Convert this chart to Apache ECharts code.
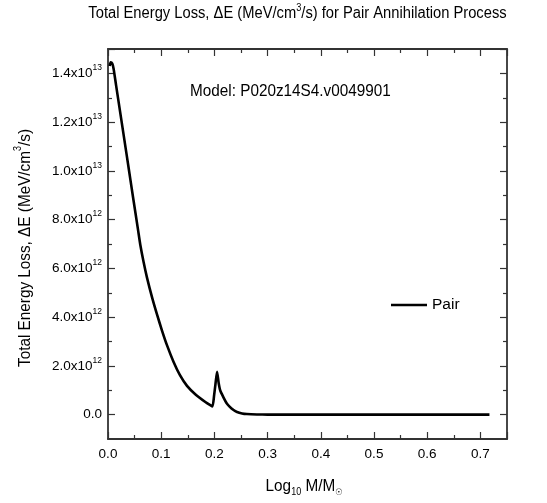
<!DOCTYPE html>
<html>
<head>
<meta charset="utf-8">
<script src="https://cdn.jsdelivr.net/npm/echarts@6/dist/echarts.min.js"></script>
<style>html,body{margin:0;padding:0;background:#fff}#c{width:547px;height:503px}</style>
</head>
<body>
<div id="c"></div>
<script>
const logMass = [0.003, 0.005, 0.008, 0.0105, 0.015, 0.023, 0.031, 0.039, 0.047, 0.0564, 0.0607, 0.0669, 0.0733, 0.0827, 0.0921, 0.1015, 0.111, 0.1233, 0.135, 0.1485, 0.164, 0.183, 0.193, 0.1965, 0.1995, 0.202, 0.205, 0.208, 0.211, 0.217, 0.2227, 0.2285, 0.236, 0.2425, 0.252, 0.261, 0.28, 0.30, 0.35, 0.45, 0.55, 0.65, 0.717];
const pairLoss = [1.43e13, 1.445e13, 1.44e13, 1.419e13, 1.354e13, 1.239e13, 1.124e13, 1.009e13, 8.93e12, 7.59e12, 6.97e12, 6.26e12, 5.62e12, 4.82e12, 4.11e12, 3.45e12, 2.84e12, 2.16e12, 1.63e12, 1.18e12, 8.4e11, 5.2e11, 3.8e11, 3.4e11, 8.0e11, 1.25e12, 1.76e12, 1.3e12, 9.9e11, 7.1e11, 4.8e11, 3.3e11, 1.9e11, 1.1e11, 5e10, 2.5e10, 8e9, 2e9, 0, 0, 0, 0, 0];
const seriesName = 'Pair';
const titleText = 'Total Energy Loss, \u0394E (MeV/cm{s|3}/s) for Pair Annihilation Process';
const yName = 'Total Energy Loss, \u0394E (MeV/cm{s|3}/s)';
const xName = 'Log{b|10} M/M{c|\u2609}';
const modelText = 'Model: P020z14S4.v0049901';
const xTicks = [0, 0.1, 0.2, 0.3, 0.4, 0.5, 0.6, 0.7];

const FONT = 'Liberation Sans, Arial, sans-serif';
const AX = '#333';
const chart = echarts.init(document.getElementById('c'), null, {renderer: 'canvas'});

function yFmt(v) {
  if (v === 0) return '{n|0.0}';
  if (Math.abs(v % 2e12) > 1) return '';
  const e = Math.floor(Math.log10(v) + 1e-9);
  const m = v / Math.pow(10, e);
  return '{n|' + m.toFixed(1) + 'x10}{s|' + e + '}';
}
const yRich = {
  n: {fontSize: 13.5, lineHeight: 20, fontFamily: FONT, color: '#000'},
  s: {fontSize: 8.5, lineHeight: 8, verticalAlign: 'top', fontFamily: FONT, color: '#000'}
};

const gLeft = 108, gRight = 40, gTop = 49, gBottom = 64;
const yMin = -1e12, yMax = 1.5e13;
const plotH = 503 - gTop - gBottom;
const zeroPx = gTop + plotH * (yMax - 0) / (yMax - yMin);

const option = {
  animation: false,
  backgroundColor: '#fff',
  grid: [
    {left: gLeft, right: gRight, top: gTop, bottom: gBottom, show: false},
    {left: gLeft, right: gRight, top: gTop, bottom: 503 - zeroPx, show: false}
  ],
  legend: {
    show: true, left: 391, top: 297, padding: 0,
    itemWidth: 36, itemHeight: 14,
    textStyle: {fontSize: 15.5, fontFamily: FONT, color: '#000'},
    data: [{name: seriesName, icon: 'path://M0,6 L36,6 L36,8.6 L0,8.6 Z', itemStyle: {color: '#000'}}]
  },
  xAxis: [
    {
      gridIndex: 0, type: 'value', position: 'bottom', min: 0, max: 0.75, interval: 0.1,
      axisLine: {show: true, onZero: false, lineStyle: {color: AX, width: 1.8}},
      axisTick: {show: true, inside: true, length: 7, lineStyle: {color: AX, width: 1.2}},
      minorTick: {show: true, splitNumber: 2, length: 4, lineStyle: {color: AX, width: 1.2}},
      splitLine: {show: false}, minorSplitLine: {show: false},
      axisLabel: {
        show: true, margin: 8, fontSize: 13.5, fontFamily: FONT, color: '#000', showMaxLabel: false,
        formatter: v => xTicks.some(t => Math.abs(t - v) < 1e-9) ? v.toFixed(1) : ''
      }
    },
    {
      gridIndex: 0, type: 'value', position: 'top', min: 0, max: 0.75, interval: 0.1,
      axisLine: {show: true, onZero: false, lineStyle: {color: AX, width: 1.8}},
      axisTick: {show: true, inside: true, length: 7, lineStyle: {color: AX, width: 1.2}},
      minorTick: {show: true, splitNumber: 2, length: 4, lineStyle: {color: AX, width: 1.2}},
      splitLine: {show: false}, axisLabel: {show: false}
    },
    {gridIndex: 1, type: 'value', min: 0, max: 0.75, show: false}
  ],
  yAxis: [
    {
      gridIndex: 0, type: 'value', position: 'left', min: yMin, max: yMax,
      axisLine: {show: true, onZero: false, lineStyle: {color: AX, width: 1.8}},
      axisTick: {show: false}, axisLabel: {show: false}, splitLine: {show: false}
    },
    {
      gridIndex: 0, type: 'value', position: 'right', min: yMin, max: yMax,
      axisLine: {show: true, onZero: false, lineStyle: {color: AX, width: 1.8}},
      axisTick: {show: false}, axisLabel: {show: false}, splitLine: {show: false}
    },
    {
      gridIndex: 1, type: 'value', position: 'left', min: 0, max: yMax, interval: 2e12,
      axisLine: {show: false},
      axisTick: {show: true, inside: true, length: 7, lineStyle: {color: AX, width: 1.2}},
      minorTick: {show: true, splitNumber: 2, length: 4, lineStyle: {color: AX, width: 1.2}},
      splitLine: {show: false}, minorSplitLine: {show: false},
      axisLabel: {show: true, margin: 6, showMaxLabel: false, formatter: yFmt, rich: yRich}
    },
    {
      gridIndex: 1, type: 'value', position: 'right', min: 0, max: yMax, interval: 2e12,
      axisLine: {show: false},
      axisTick: {show: true, inside: true, length: 7, lineStyle: {color: AX, width: 1.2}},
      minorTick: {show: true, splitNumber: 2, length: 4, lineStyle: {color: AX, width: 1.2}},
      splitLine: {show: false}, axisLabel: {show: false}
    }
  ],
  series: [{
    name: seriesName, type: 'line', xAxisIndex: 0, yAxisIndex: 0,
    data: logMass.map((x, i) => [x, pairLoss[i]]),
    showSymbol: false, symbol: 'none', smooth: 0.2,
    lineStyle: {color: '#000', width: 2.6, join: 'round'},
    itemStyle: {color: '#000'}
  }],
  graphic: [
    {
      type: 'text', x: 297.5, y: 14, scaleX: 0.92,
      style: {
        text: titleText, align: 'center', verticalAlign: 'middle',
        fontSize: 16, lineHeight: 22, fontFamily: FONT, fill: '#000',
        rich: {s: {fontSize: 10, lineHeight: 9, verticalAlign: 'top', fontFamily: FONT, fill: '#000'}}
      }
    },
    {
      type: 'text', x: 190, y: 91, scaleX: 0.9,
      style: {text: modelText, align: 'left', verticalAlign: 'middle', fontSize: 17, fontFamily: FONT, fill: '#000'}
    },
    {
      type: 'text', x: 25, y: 248, rotation: Math.PI / 2, scaleX: 0.9,
      style: {
        text: yName, align: 'center', verticalAlign: 'middle',
        fontSize: 17, lineHeight: 24, fontFamily: FONT, fill: '#000',
        rich: {s: {fontSize: 10, lineHeight: 10, verticalAlign: 'top', fontFamily: FONT, fill: '#000'}}
      }
    },
    {
      type: 'text', x: 304, y: 486, scaleX: 0.9,
      style: {
        text: xName, align: 'center', verticalAlign: 'middle',
        fontSize: 17, lineHeight: 22, fontFamily: FONT, fill: '#000',
        rich: {
          b: {fontSize: 10, lineHeight: 9, verticalAlign: 'bottom', fontFamily: FONT, fill: '#000'},
          c: {fontSize: 9, lineHeight: 9, verticalAlign: 'bottom', fontFamily: 'DejaVu Sans', fill: '#000'}
        }
      }
    }
  ]
};
chart.setOption(option);
</script>
</body>
</html>
